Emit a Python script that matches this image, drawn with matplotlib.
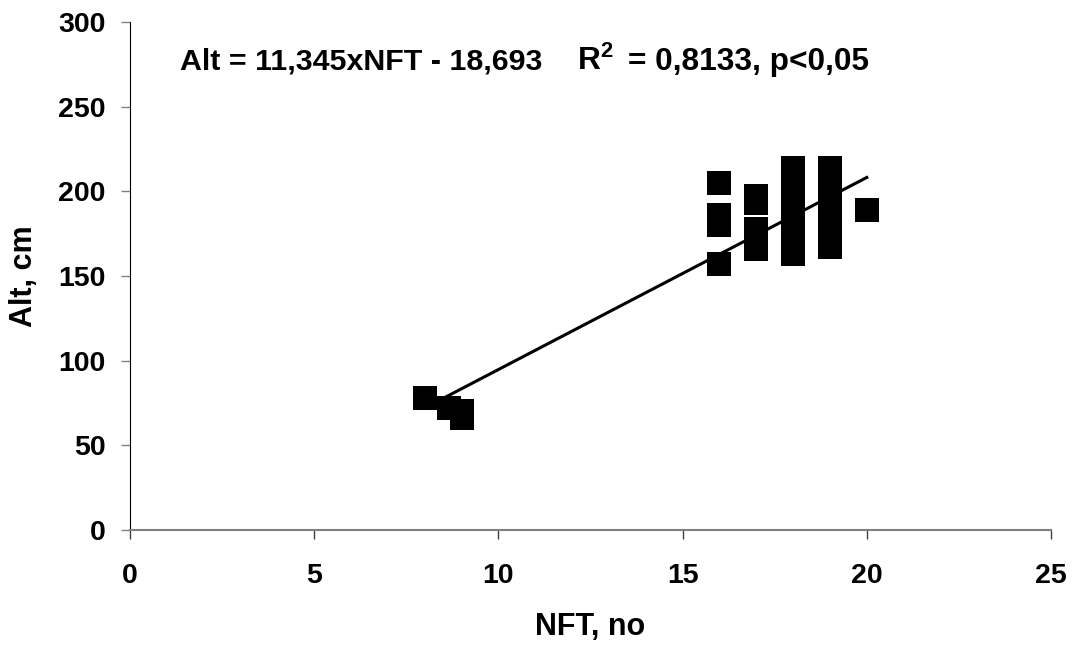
import matplotlib
matplotlib.use("Agg")
import matplotlib.pyplot as plt
import numpy as np

plt.rcParams['font.family'] = ['Liberation Sans', 'DejaVu Sans']
plt.rcParams['font.weight'] = 'bold'
plt.rcParams['mathtext.fontset'] = 'custom'
plt.rcParams['mathtext.bf'] = 'Liberation Sans:bold'
plt.rcParams['mathtext.rm'] = 'Liberation Sans:bold'
plt.rcParams['mathtext.default'] = 'bf'

# data
nft = [8, 8.65, 9, 9,
       16, 16, 16, 16,
       17, 17, 17, 17, 17,
       18, 18, 18, 18, 18, 18, 18, 18,
       19, 19, 19, 19, 19, 19, 19,
       20]
alt = [78, 72, 70, 66,
       205, 186, 180, 157,
       197, 193, 178, 172, 166,
       214, 205, 197, 190, 183, 176, 170, 163,
       214, 206, 198, 190, 182, 174, 167,
       189]
slope = 11.345
intercept = -18.693
x_ticks = [0, 5, 10, 15, 20, 25]
y_ticks = [0, 50, 100, 150, 200, 250, 300]

fig = plt.figure(figsize=(10.76, 6.45), dpi=100)
ax = fig.add_axes([130/1076, 1-530/645, (1051-130)/1076, (530-22)/645])

ax.plot(nft, alt, linestyle='none', marker='s', markersize=17,
        color='black', markeredgewidth=0, zorder=3)
xl = np.array([min(nft), max(nft)])
ax.plot(xl, slope*xl + intercept, color='black', linewidth=2.2, zorder=4)

ax.set_xlim(0, 25)
ax.set_ylim(0, 300)
ax.set_xticks(x_ticks)
ax.set_yticks(y_ticks)
ax.spines['top'].set_visible(False)
ax.spines['right'].set_visible(False)
ax.spines['left'].set_color('black')
ax.spines['bottom'].set_color('#808080')
ax.spines['bottom'].set_linewidth(1.5)
ax.tick_params(axis='x', direction='out', length=6.5, width=1, color='#404040',
               pad=17, labelsize=20.5)
ax.tick_params(axis='y', direction='out', length=6.5, width=1, color='#808080',
               pad=11, labelsize=20.5)
for lab in ax.get_xticklabels() + ax.get_yticklabels():
    lab.set_fontweight('bold')

ax.set_xlabel('NFT, no', fontsize=22, fontweight='bold', labelpad=17)
ax.set_ylabel('Alt, cm', fontsize=22, fontweight='bold', labelpad=14)

fig.text(180/1076, 1-70/645, 'Alt = 11,345xNFT - 18,693', fontsize=21.9,
         fontweight='bold', va='baseline', ha='left')
fig.text(577/1076, 1-70/645, 'R$^{2}$', fontsize=22.8,
         fontweight='bold', va='baseline', ha='left')
fig.text(628/1076, 1-70/645, '= 0,8133, p<0,05', fontsize=22.8,
         fontweight='bold', va='baseline', ha='left')

fig.savefig('out.png', dpi=100)
